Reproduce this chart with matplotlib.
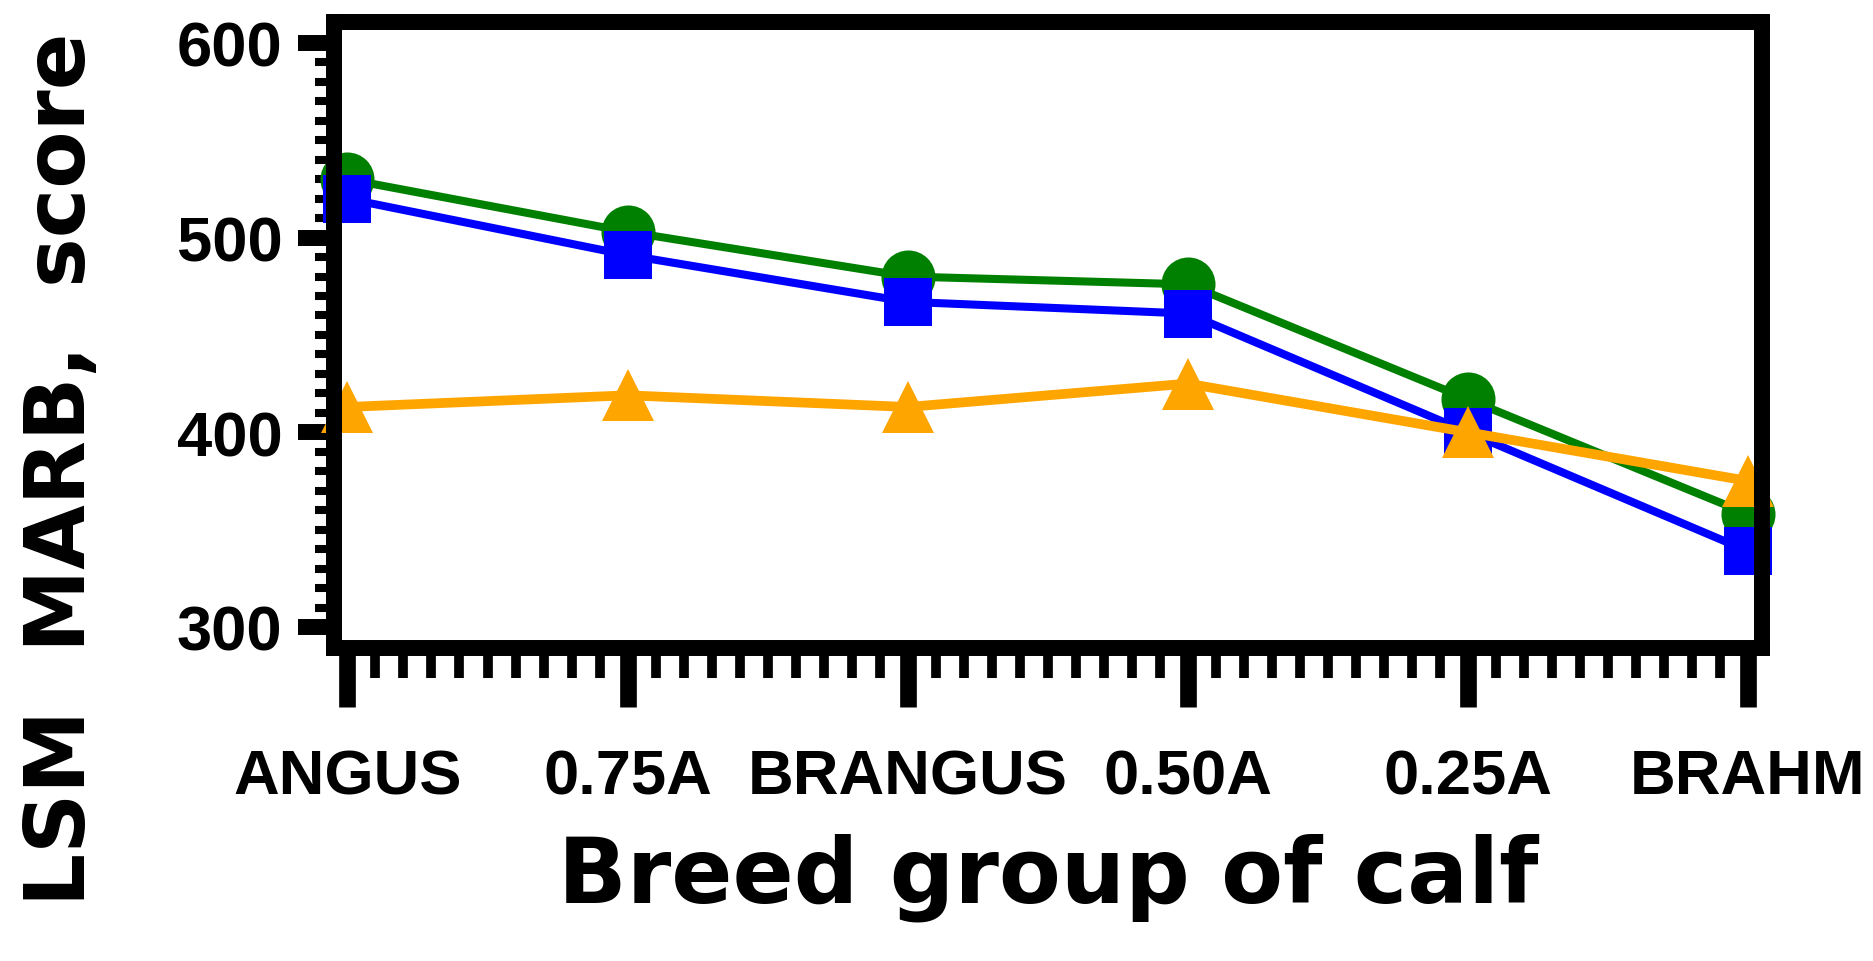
import numpy as np
import matplotlib
matplotlib.use("Agg")
import matplotlib.pyplot as plt
from matplotlib.ticker import FixedLocator

categories = ["ANGUS", "0.75A", "BRANGUS", "0.50A", "0.25A", "BRAHM"]
green_vals = [530, 503, 480, 476, 417, 358]
blue_vals = [520, 491, 467, 461, 400, 339]
orange_vals = [413, 419, 413, 425, 400, 375]
y_major = [300, 400, 500, 600]
y_minor = list(range(300, 601, 10))

W, H, DPI = 1874, 962, 100
fig = plt.figure(figsize=(W / DPI, H / DPI), dpi=DPI)
ax = fig.add_axes([334 / W, 1 - 649 / H, (1762 - 334) / W, (649 - 22.5) / H])

x = np.arange(len(categories))
ax.plot(x, green_vals, color="#008000", lw=5.8, marker="o", ms=38.9, mew=0,
        clip_on=False, zorder=2)
ax.plot(x, blue_vals, color="#0000FF", lw=5.8, marker="s", ms=34.6, mew=0,
        clip_on=False, zorder=2.1)
ax.plot(x, orange_vals, color="#FFA500", lw=7, marker="^", ms=37.4, mew=0,
        clip_on=False, zorder=2.2)

ax.set_xlim(-0.048, 5.05)
ax.set_ylim(289.2, 611)

for s in ax.spines.values():
    s.set_linewidth(11.5)
    s.set_zorder(3)
    s.set_capstyle("projecting")

ax.set_xticks(x)
ax.set_xticklabels(categories)
ax.xaxis.set_minor_locator(FixedLocator(np.round(np.arange(0, 5.001, 0.1), 2)))
ax.set_yticks(y_major)
ax.yaxis.set_minor_locator(FixedLocator(y_minor))

tickfont = dict(family="Liberation Sans", weight="bold", size=45.5)
for lab in ax.get_xticklabels() + ax.get_yticklabels():
    lab.set_fontproperties(matplotlib.font_manager.FontProperties(**tickfont))

ax.tick_params(axis="x", which="major", direction="out", length=42.5, width=12, pad=29)
ax.tick_params(axis="x", which="minor", direction="out", length=21.6, width=7)
ax.tick_params(axis="y", which="major", direction="out", length=26, width=11.5, pad=11)
ax.tick_params(axis="y", which="minor", direction="out", length=13.7, width=5.8)
ax.tick_params(colors="black", zorder=3)

fig.text(62 / W, 1 - 469 / H, "LSM  MARB,  score", rotation=90, ha="center", va="center",
         family="DejaVu Sans", weight="bold", fontsize=60)
fig.text(1048 / W, 1 - 903 / H, "Breed group of calf", ha="center", va="baseline",
         family="DejaVu Sans", weight="bold", fontsize=65)

fig.savefig("out.png", dpi=DPI)
